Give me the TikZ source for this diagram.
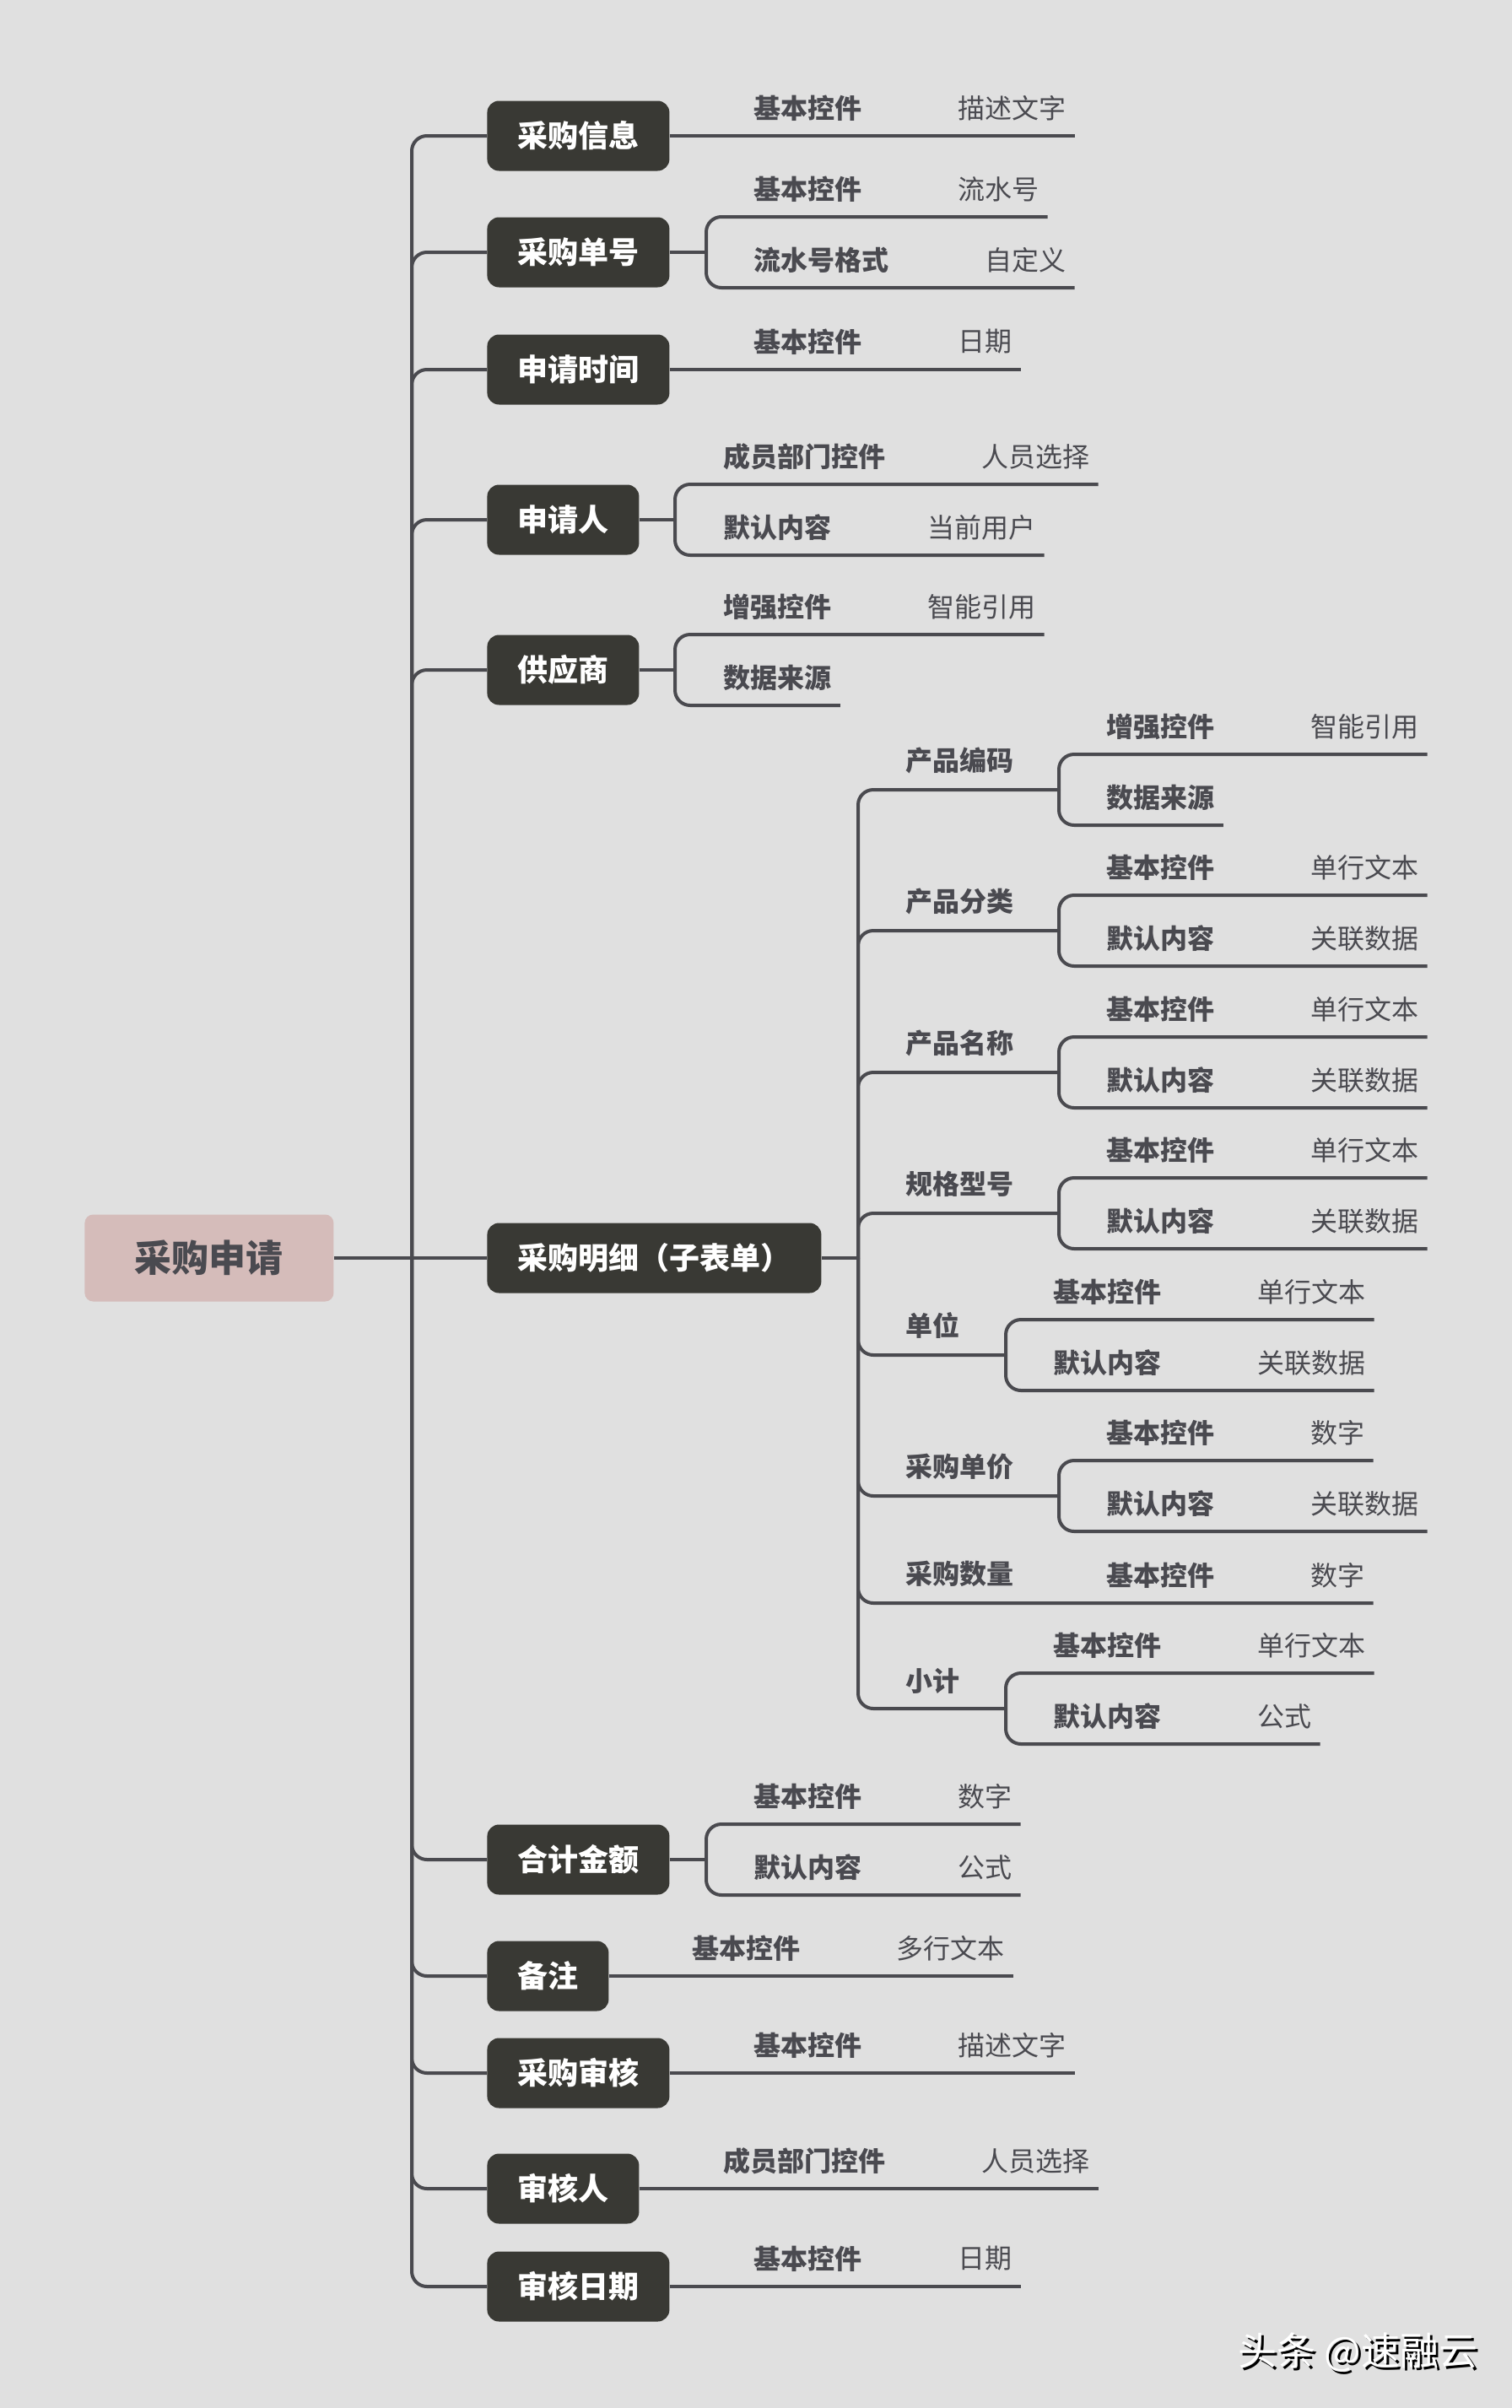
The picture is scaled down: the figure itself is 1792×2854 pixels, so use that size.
\documentclass[tikz,border=0pt]{standalone}
\usepackage{fontspec}
\newfontfamily\cjk{Noto Sans CJK SC}
\usetikzlibrary{calc}
\definecolor{bgc}{HTML}{E0E0E0}
\definecolor{linec}{HTML}{4A4A4F}
\definecolor{boxc}{HTML}{393934}
\definecolor{rootc}{HTML}{D5BCBA}
\definecolor{txtc}{HTML}{4A4A50}
\tikzset{
 conn/.style={draw=linec, line width=2pt},
 rc/.style={rounded corners=9pt},
 l1box/.style={fill=boxc, text=white, font=\cjk\bfseries\fontsize{18pt}{18pt}\selectfont, rounded corners=7pt, inner xsep=18pt, inner ysep=0pt, minimum height=41.5pt, anchor=west},
 rootbox/.style={fill=rootc, text=txtc, font=\cjk\bfseries\fontsize{22pt}{22pt}\selectfont, rounded corners=5pt, minimum width=147.5pt, minimum height=51.5pt, anchor=west, inner sep=0pt},
 lbl/.style={text=txtc, font=\cjk\bfseries\fontsize{16pt}{16pt}\selectfont, inner sep=0pt, anchor=west},
 val/.style={text=txtc, font=\cjk\fontsize{16pt}{16pt}\selectfont, inner sep=0pt, anchor=west},
 wmark/.style={font=\cjk\fontsize{23pt}{23pt}\selectfont, inner sep=0pt, anchor=west},
}
\newcommand\leafkv[5]{%
  \node[lbl] (#1) at (#2,#3-33) {#4};
  \node[val] (#1v) at ($(#1.east)+(113,0)$) {#5};
  \coordinate (#1e) at ($(#1v.east)+(10,33)$);
}
\newcommand\leafk[4]{%
  \node[lbl] (#1) at (#2,#3-33) {#4};
  \coordinate (#1e) at ($(#1.east)+(10,33)$);
}
\begin{document}
\begin{tikzpicture}[x=0.5pt,y=-0.5pt]
\fill[bgc] (0,0) rectangle (1792,2854);
\useasboundingbox (0,0) rectangle (1792,2854);

% root and level-1 boxes
\node[rootbox] (root) at (100,1491) {采购申请};
\node[l1box] (b1) at (577,161) {采购信息};
\node[l1box] (b2) at (577,299) {采购单号};
\node[l1box] (b3) at (577,438) {申请时间};
\node[l1box] (b4) at (577,616) {申请人};
\node[l1box] (b5) at (577,794) {供应商};
\node[l1box] (b6) at (577,1491) {采购明细（子表单）};
\node[l1box] (b7) at (577,2204) {合计金额};
\node[l1box] (b8) at (577,2342) {备注};
\node[l1box] (b9) at (577,2457) {采购审核};
\node[l1box] (b10) at (577,2594) {审核人};
\node[l1box] (b11) at (577,2710) {审核日期};

\coordinate (tr) at (488,1491);
\draw[conn] (root.east) -- (b6.west);
\foreach \i in {1,2,3,4,5,7,8,9,10,11} {\draw[conn,rc] (tr) |- (b\i.west);}

% 采购信息
\leafkv{c1}{893}{161}{基本控件}{描述文字}
\draw[conn] (b1.east) -- (c1e);
% 采购单号
\coordinate (k2) at (837,299);
\leafkv{c2a}{893}{257}{基本控件}{流水号}
\leafkv{c2b}{893}{341}{流水号格式}{自定义}
\draw[conn] (b2.east) -- (k2);
\draw[conn,rc] (k2) |- (c2ae);
\draw[conn,rc] (k2) |- (c2be);
% 申请时间
\leafkv{c3}{893}{438}{基本控件}{日期}
\draw[conn] (b3.east) -- (c3e);
% 申请人
\coordinate (k4) at (800,616);
\leafkv{c4a}{857}{574}{成员部门控件}{人员选择}
\leafkv{c4b}{857}{658}{默认内容}{当前用户}
\draw[conn] (b4.east) -- (k4);
\draw[conn,rc] (k4) |- (c4ae);
\draw[conn,rc] (k4) |- (c4be);
% 供应商
\coordinate (k5) at (800,794);
\leafkv{c5a}{857}{752}{增强控件}{智能引用}
\leafk{c5b}{857}{836}{数据来源}
\draw[conn] (b5.east) -- (k5);
\draw[conn,rc] (k5) |- (c5ae);
\draw[conn,rc] (k5) |- (c5be);
% 合计金额
\coordinate (k7) at (837,2204);
\leafkv{c7a}{893}{2162}{基本控件}{数字}
\leafkv{c7b}{893}{2246}{默认内容}{公式}
\draw[conn] (b7.east) -- (k7);
\draw[conn,rc] (k7) |- (c7ae);
\draw[conn,rc] (k7) |- (c7be);
% 备注
\leafkv{c8}{820}{2342}{基本控件}{多行文本}
\draw[conn] (b8.east) -- (c8e);
% 采购审核
\leafkv{c9}{893}{2457}{基本控件}{描述文字}
\draw[conn] (b9.east) -- (c9e);
% 审核人
\leafkv{c10}{857}{2594}{成员部门控件}{人员选择}
\draw[conn] (b10.east) -- (c10e);
% 审核日期
\leafkv{c11}{893}{2710}{基本控件}{日期}
\draw[conn] (b11.east) -- (c11e);

% 采购明细 subtree
\coordinate (t2) at (1017,1491);
\draw[conn] (b6.east) -- (t2);

\node[lbl] (p1) at (1073,936-35) {产品编码};
\coordinate (k21) at (1255,936);
\leafkv{p1a}{1311}{894}{增强控件}{智能引用}
\leafk{p1b}{1311}{978}{数据来源}
\draw[conn,rc] (t2) |- (k21);
\draw[conn,rc] (k21) |- (p1ae);
\draw[conn,rc] (k21) |- (p1be);

\node[lbl] (p2) at (1073,1103-35) {产品分类};
\coordinate (k22) at (1255,1103);
\leafkv{p2a}{1311}{1061}{基本控件}{单行文本}
\leafkv{p2b}{1311}{1145}{默认内容}{关联数据}
\draw[conn,rc] (t2) |- (k22);
\draw[conn,rc] (k22) |- (p2ae);
\draw[conn,rc] (k22) |- (p2be);

\node[lbl] (p3) at (1073,1271-35) {产品名称};
\coordinate (k23) at (1255,1271);
\leafkv{p3a}{1311}{1229}{基本控件}{单行文本}
\leafkv{p3b}{1311}{1313}{默认内容}{关联数据}
\draw[conn,rc] (t2) |- (k23);
\draw[conn,rc] (k23) |- (p3ae);
\draw[conn,rc] (k23) |- (p3be);

\node[lbl] (p4) at (1073,1438-35) {规格型号};
\coordinate (k24) at (1255,1438);
\leafkv{p4a}{1311}{1396}{基本控件}{单行文本}
\leafkv{p4b}{1311}{1480}{默认内容}{关联数据}
\draw[conn,rc] (t2) |- (k24);
\draw[conn,rc] (k24) |- (p4ae);
\draw[conn,rc] (k24) |- (p4be);

\node[lbl] (p5) at (1073,1606-35) {单位};
\coordinate (k25) at (1192,1606);
\leafkv{p5a}{1248}{1564}{基本控件}{单行文本}
\leafkv{p5b}{1248}{1648}{默认内容}{关联数据}
\draw[conn,rc] (t2) |- (k25);
\draw[conn,rc] (k25) |- (p5ae);
\draw[conn,rc] (k25) |- (p5be);

\node[lbl] (p6) at (1073,1773-35) {采购单价};
\coordinate (k26) at (1255,1773);
\leafkv{p6a}{1311}{1731}{基本控件}{数字}
\leafkv{p6b}{1311}{1815}{默认内容}{关联数据}
\draw[conn,rc] (t2) |- (k26);
\draw[conn,rc] (k26) |- (p6ae);
\draw[conn,rc] (k26) |- (p6be);

\node[lbl] (p7) at (1073,1900-35) {采购数量};
\leafkv{p7a}{1311}{1900}{基本控件}{数字}
\draw[conn,rc] (t2) |- (p7ae);

\node[lbl] (p8) at (1073,2025-33) {小计};
\coordinate (k28) at (1192,2025);
\leafkv{p8a}{1248}{1983}{基本控件}{单行文本}
\leafkv{p8b}{1248}{2067}{默认内容}{公式}
\draw[conn,rc] (t2) |- (k28);
\draw[conn,rc] (k28) |- (p8ae);
\draw[conn,rc] (k28) |- (p8be);

% watermark
\node[wmark, text=black] (wms) at (1470,2791) {头条 @速融云};
\node[wmark, text=white] (wm) at (1467,2788) {头条 @速融云};
\end{tikzpicture}
\end{document}
